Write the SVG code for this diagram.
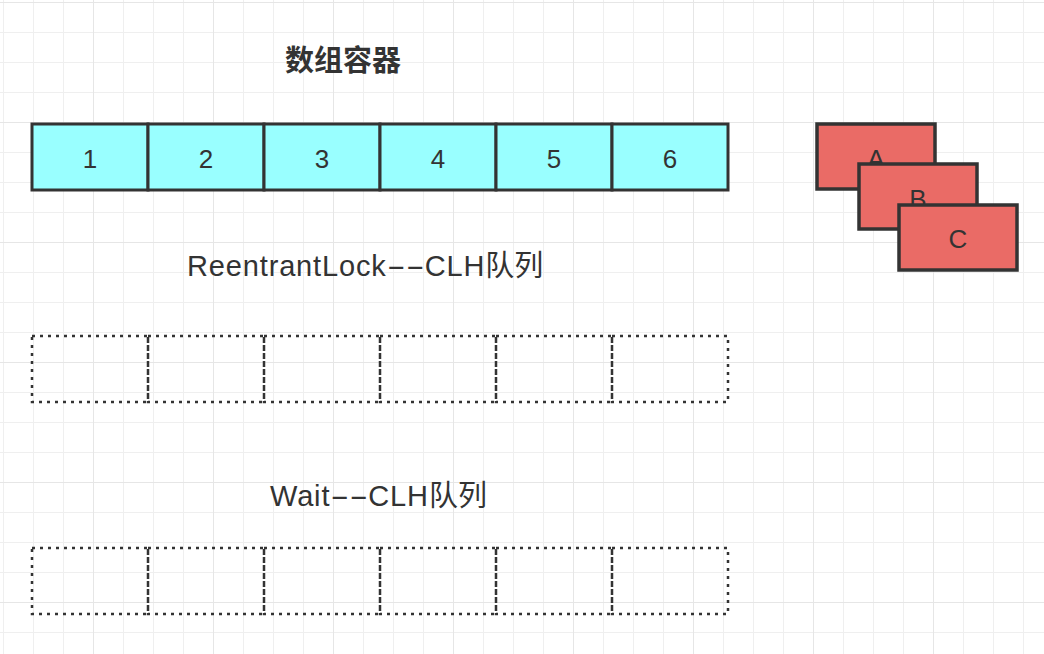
<svg xmlns="http://www.w3.org/2000/svg" width="1044" height="654" viewBox="0 0 1044 654">
<defs>
<pattern id="minor" width="30" height="30" patternUnits="userSpaceOnUse" x="3" y="2">
<path d="M0 0H30M0 0V30" fill="none" stroke="#efefef" stroke-width="2"/>
</pattern>
<pattern id="major" width="120" height="120" patternUnits="userSpaceOnUse" x="93" y="2">
<path d="M0 0H120M0 0V120" fill="none" stroke="#e6e6e6" stroke-width="2"/>
</pattern>
</defs>
<style>
.cell{fill:#99ffff;stroke:#333;stroke-width:3}
.red{fill:#ea6b66;stroke:#333;stroke-width:3.5}
.dot{fill:none;stroke:#333;stroke-width:2.5;stroke-dasharray:3 5}
.lbl{font-family:"Liberation Sans",Arial,sans-serif;font-size:26px;fill:#333;text-anchor:middle}
.title{font-family:"Liberation Sans","Noto Sans CJK SC",sans-serif;font-size:29px;fill:#333}
.lat{letter-spacing:0.85px}
</style>
<rect width="1044" height="654" fill="#fff"/>
<rect width="1044" height="654" fill="url(#minor)"/>
<rect width="1044" height="654" fill="url(#major)"/>

<g id="title-array"><text class="title" x="343" y="71" font-weight="bold" text-anchor="middle">数组容器</text></g>

<g id="array">
<g id="cell1"><rect class="cell" x="32" y="124" width="116" height="66"/><text class="lbl" x="90" y="168">1</text></g>
<g id="cell2"><rect class="cell" x="148" y="124" width="116" height="66"/><text class="lbl" x="206" y="168">2</text></g>
<g id="cell3"><rect class="cell" x="264" y="124" width="116" height="66"/><text class="lbl" x="322" y="168">3</text></g>
<g id="cell4"><rect class="cell" x="380" y="124" width="116" height="66"/><text class="lbl" x="438" y="168">4</text></g>
<g id="cell5"><rect class="cell" x="496" y="124" width="116" height="66"/><text class="lbl" x="554" y="168">5</text></g>
<g id="cell6"><rect class="cell" x="612" y="124" width="116" height="66"/><text class="lbl" x="670" y="168">6</text></g>
</g>

<g id="boxA"><rect class="red" x="817" y="124" width="118" height="65"/><text class="lbl" x="876" y="168">A</text></g>
<g id="boxB"><rect class="red" x="859" y="164" width="118" height="65"/><text class="lbl" x="918" y="208">B</text></g>
<g id="boxC"><rect class="red" x="899" y="205" width="118" height="65"/><text class="lbl" x="958" y="248">C</text></g>

<g id="title-reentrant"><text class="title" x="187" y="276"><tspan class="lat">ReentrantLock</tspan><tspan textLength="38" lengthAdjust="spacingAndGlyphs">--</tspan><tspan class="lat">CLH</tspan>队列</text></g>

<g id="queue1">
<rect class="dot" x="32" y="336" width="116" height="66"/>
<rect class="dot" x="148" y="336" width="116" height="66"/>
<rect class="dot" x="264" y="336" width="116" height="66"/>
<rect class="dot" x="380" y="336" width="116" height="66"/>
<rect class="dot" x="496" y="336" width="116" height="66"/>
<rect class="dot" x="612" y="336" width="116" height="66"/>
</g>

<g id="title-wait"><text class="title" x="270" y="506"><tspan class="lat">Wait</tspan><tspan textLength="38" lengthAdjust="spacingAndGlyphs">--</tspan><tspan class="lat">CLH</tspan>队列</text></g>

<g id="queue2">
<rect class="dot" x="32" y="548" width="116" height="66"/>
<rect class="dot" x="148" y="548" width="116" height="66"/>
<rect class="dot" x="264" y="548" width="116" height="66"/>
<rect class="dot" x="380" y="548" width="116" height="66"/>
<rect class="dot" x="496" y="548" width="116" height="66"/>
<rect class="dot" x="612" y="548" width="116" height="66"/>
</g>
</svg>
